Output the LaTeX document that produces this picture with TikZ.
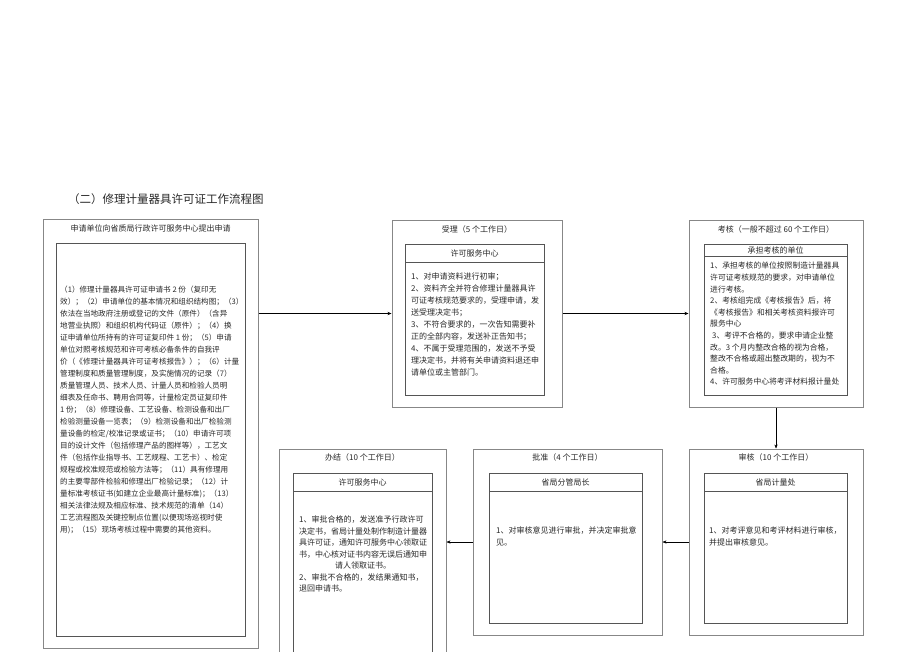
\documentclass[tikz,border=0pt]{standalone}
\usepackage{fontspec}
\setmainfont{Noto Sans CJK SC}
\definecolor{FrameColor}{RGB}{135,135,135}
\definecolor{BoxColor}{RGB}{85,85,85}
\definecolor{TextColor}{RGB}{40,40,40}
\usetikzlibrary{positioning, arrows.meta}
\tikzstyle{flow} = [thin, black, -{Stealth[length=4pt,width=3.2pt]}]
\tikzstyle{stage} = [rectangle, draw=FrameColor, line width=1pt, inner sep=0pt]
\tikzstyle{unit} = [rectangle, draw=BoxColor, line width=0.8pt, inner sep=0pt]
\tikzset{
  unithead/.style={rectangle, draw=BoxColor, line width=0.8pt, inner sep=0pt, text=TextColor, font=\fontsize{8}{10}\selectfont},
  stagetitle/.style={inner sep=0pt, anchor=north, text=TextColor, font=\fontsize{8}{10}\selectfont},
  steps/.style={inner sep=0pt, anchor=north west, align=left, text=TextColor, font=\fontsize{8}{11.8}\selectfont}
}

\begin{document}
\begin{tikzpicture}[x=1pt, y=-1pt]
  \useasboundingbox (0,0) rectangle (920,651);

  % Heading
  \node[anchor=west, inner sep=0pt, text=TextColor, font=\fontsize{11.5}{14}\selectfont] (heading) at (68,199) {（二）修理计量器具许可证工作流程图};

  % Application
  \node[stage, minimum width=215pt, minimum height=429pt] (shenqing) at (150.5,433.5) {};
  \node[unit, minimum width=189pt, minimum height=393pt] (shenqingIn) at (150.5,439.5) {};
  \node[stagetitle, below=6pt of shenqing.north] (shenqingT) {申请单位向省质局行政许可服务中心提出申请};
  \node[steps, font=\fontsize{7.6}{12}\selectfont] (shenqingS) at (60,286) {（1）修理计量器具许可证申请书 2 份（复印无\\
效）；（2）申请单位的基本情况和组织结构图；（3）\\
依法在当地政府注册或登记的文件（原件）（含异\\
地营业执照）和组织机构代码证（原件）；（4）换\\
证申请单位所持有的许可证复印件 1 份；（5）申请\\
单位对照考核规范和许可考核必备条件的自我评\\
价（《修理计量器具许可证考核报告》）；（6）计量\\
管理制度和质量管理制度，及实施情况的记录（7）\\
质量管理人员、技术人员、计量人员和检验人员明\\
细表及任命书、聘用合同等，计量检定员证复印件\\
1 份；（8）修理设备、工艺设备、检测设备和出厂\\
检验测量设备一览表；（9）检测设备和出厂检验测\\
量设备的检定/校准记录或证书；（10）申请许可项\\
目的设计文件（包括修理产品的图样等），工艺文\\
件（包括作业指导书、工艺规程、工艺卡）、检定\\
规程或校准规范或检验方法等；（11）具有修理用\\
的主要零部件检验和修理出厂检验记录；（12）计\\
量标准考核证书(如建立企业最高计量标准)；（13）\\
相关法律法规及相应标准、技术规范的清单（14）\\
工艺流程图及关键控制点位置(以便现场巡视时使\\
用)；（15）现场考核过程中需要的其他资料。};

  % Acceptance
  \node[stage, minimum width=170pt, minimum height=187pt] (shouli) at (477,313.5) {};
  \node[unit, minimum width=139pt, minimum height=151pt] (shouliIn) at (474.5,319.5) {};
  \node[stagetitle, below=6pt of shouli.north] (shouliT) {受理（5 个工作日）};
  \node[unithead, minimum width=139pt, minimum height=18pt, below=0pt of shouliIn.north] (shouliH) {许可服务中心};
  \node[steps, font=\fontsize{8}{12}\selectfont] (shouliS) at (411,273) {1、对申请资料进行初审；\\
2、资料齐全并符合修理计量器具许\\
可证考核规范要求的，受理申请，发\\
送受理决定书；\\
3、不符合要求的，一次告知需要补\\
正的全部内容，发送补正告知书；\\
4、不属于受理范围的，发送不予受\\
理决定书，并将有关申请资料退还申\\
请单位或主管部门。};

  % Assessment
  \node[stage, minimum width=174pt, minimum height=187pt] (kaohe) at (776,313.5) {};
  \node[unit, minimum width=143pt, minimum height=151pt] (kaoheIn) at (775.5,319.5) {};
  \node[stagetitle, below=6pt of kaohe.north] (kaoheT) {考核（一般不超过 60 个工作日）};
  \node[unithead, minimum width=143pt, minimum height=12pt, below=0pt of kaoheIn.north] (kaoheH) {承担考核的单位};
  \node[steps, font=\fontsize{7.8}{11.6}\selectfont] (kaoheS) at (710,262) {1、承担考核的单位按照制造计量器具\\
许可证考核规范的要求，对申请单位\\
进行考核。\\
2、考核组完成《考核报告》后，将\\
《考核报告》和相关考核资料报许可\\
服务中心\\
\hspace*{2pt}3、考评不合格的，要求申请企业整\\
改。3 个月内整改合格的视为合格，\\
整改不合格或超出整改期的，视为不\\
合格。\\
4、许可服务中心将考评材料报计量处};

  % Review
  \node[stage, minimum width=174pt, minimum height=186pt] (shenhe) at (776,542) {};
  \node[unit, minimum width=143pt, minimum height=150pt] (shenheIn) at (775.5,548) {};
  \node[stagetitle, below=5pt of shenhe.north] (shenheT) {审核（10 个工作日）};
  \node[unithead, minimum width=143pt, minimum height=18pt, below=0pt of shenheIn.north] (shenheH) {省局计量处};
  \node[steps, font=\fontsize{8}{12}\selectfont] (shenheS) at (709,526) {1、对考评意见和考评材料进行审核，\\
并提出审核意见。};

  % Approval
  \node[stage, minimum width=189pt, minimum height=186pt] (pizhun) at (567.5,542) {};
  \node[unit, minimum width=153pt, minimum height=150pt] (pizhunIn) at (565.5,548) {};
  \node[stagetitle, below=5pt of pizhun.north] (pizhunT) {批准（4 个工作日）};
  \node[unithead, minimum width=153pt, minimum height=18pt, below=0pt of pizhunIn.north] (pizhunH) {省局分管局长};
  \node[steps, font=\fontsize{8}{12}\selectfont] (pizhunS) at (496,526) {1、对审核意见进行审批，并决定审批意\\
见。};

  % Completion
  \node[stage, minimum width=167pt, minimum height=216pt] (banjie) at (362.5,557) {};
  \node[unit, minimum width=139pt, minimum height=182pt] (banjieIn) at (362.5,564) {};
  \node[stagetitle, below=5pt of banjie.north] (banjieT) {办结（10 个工作日）};
  \node[unithead, minimum width=139pt, minimum height=18pt, below=0pt of banjieIn.north] (banjieH) {许可服务中心};
  \node[steps, font=\fontsize{8}{11.5}\selectfont] (banjieS) at (299,516) {1、审批合格的，发送准予行政许可\\
决定书，省局计量处制作制造计量器\\
具许可证，通知许可服务中心领取证\\
书，中心核对证书内容无误后通知申\\
\hspace*{36pt}请人领取证书。\\
2、审批不合格的，发结果通知书，\\
退回申请书。};

  % Flow between stages
  \draw[flow] (shouli.west -| shenqing.east) -- (shouli.west);
  \draw[flow] (shouli.east) -- (kaohe.west);
  \draw[flow] (kaohe.south) -- (shenhe.north);
  \draw[flow] (shenhe.west) -- (pizhun.east);
  \draw[flow] (pizhun.west) -- (pizhun.west -| banjie.east);
\end{tikzpicture}
\end{document}
